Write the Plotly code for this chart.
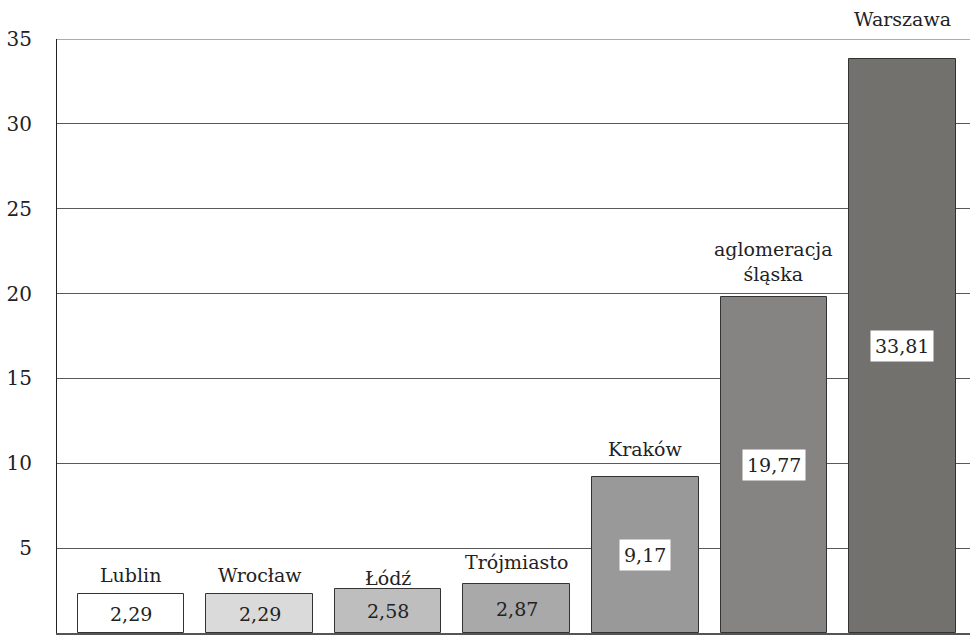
import plotly.graph_objects as go

categories = ["Lublin", "Wrocław", "Łódź", "Trójmiasto", "Kraków", "aglomeracja<br>śląska", "Warszawa"]
values = [2.29, 2.29, 2.58, 2.87, 9.17, 19.77, 33.81]
value_labels = ["2,29", "2,29", "2,58", "2,87", "9,17", "19,77", "33,81"]
bar_colors = ["#ffffff", "#dadada", "#bebebe", "#a9a9a9", "#9a9999", "#858483", "#72716e"]
y_ticks = [0, 5, 10, 15, 20, 25, 30, 35]

FONT = "DejaVu Serif"
FSIZE = 19
# per-label vertical offsets (px) of category names above the bars
name_shift = [6, 6, -2, 9, 15, 10, 27]
x_idx = list(range(len(categories)))

fig = go.Figure()
fig.add_trace(go.Bar(
    x=x_idx, y=values,
    marker=dict(color=bar_colors, line=dict(color="#333333", width=1)),
    width=0.83,
    hoverinfo="skip",
))

annotations = []
for i, (c, v, lab) in enumerate(zip(categories, values, value_labels)):
    annotations.append(dict(
        x=i, y=v, xref="x", yref="y", text=c, showarrow=False,
        yanchor="bottom", yshift=name_shift[i],
        font=dict(family=FONT, size=FSIZE, color="#222222"),
    ))
    annotations.append(dict(
        x=i, y=v / 2, xref="x", yref="y", text=lab, showarrow=False,
        yanchor="middle",
        bgcolor="#ffffff" if v > 5 else "rgba(0,0,0,0)",
        borderpad=4,
        font=dict(family=FONT, size=FSIZE, color="#222222"),
    ))

fig.update_layout(
    width=970, height=639,
    margin=dict(l=57, r=0, t=39, b=6),
    paper_bgcolor="white", plot_bgcolor="white",
    showlegend=False,
    bargap=0,
    font=dict(family=FONT),
    annotations=annotations,
    shapes=[dict(type="line", xref="paper", yref="y", x0=0, x1=1, y0=35, y1=35,
                 line=dict(color="#5a5a5a", width=1), layer="below")],
    xaxis=dict(
        range=[-0.575, 6.525],
        showticklabels=False, ticks="",
        showgrid=False, zeroline=False,
        showline=True, linecolor="#555555", linewidth=2,
    ),
    yaxis=dict(
        range=[0, 35],
        tickvals=y_ticks, ticktext=[str(t) for t in y_ticks],
        ticks="", ticklabelstandoff=20,
        tickfont=dict(family=FONT, size=FSIZE + 1, color="#222222"),
        showgrid=True, gridcolor="#5a5a5a", gridwidth=1,
        zeroline=False,
        showline=True, linecolor="#222222", linewidth=1,
    ),
)

fig.write_html("out.html")
